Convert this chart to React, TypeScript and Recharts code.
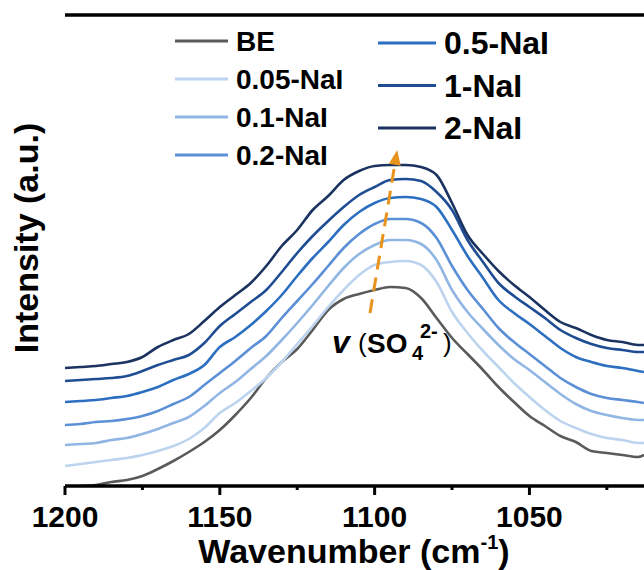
import React from 'react';
import { LineChart, Line, XAxis, YAxis, ReferenceLine } from 'recharts';

const wavenumbers = [1200, 1195, 1190, 1185, 1180, 1175, 1170, 1165, 1160, 1155, 1150, 1145, 1140, 1135, 1130, 1125, 1120, 1115, 1110, 1105, 1100, 1095, 1090, 1085, 1080, 1075, 1070, 1065, 1060, 1055, 1050, 1045, 1040, 1035, 1030, 1025, 1020, 1015, 1013];

const seriesBE = [null, 0, 1, 4, 6, 10, 17, 25, 34, 44, 56, 71, 88, 108, 124, 137, 156, 176, 187, 192, 196, 199, 198, 188, 168, 148, 132, 116, 99, 84, 70, 60, 50, 44, 35, 33, 31, 29, 31];
const series005 = [20, 22, 24, 26, 28, 31, 35, 40, 47, 58, 73, 83, 95, 108, 124, 142, 160, 179, 196, 211, 221, 224, 225, 221, 204, 174, 153, 135, 119, 103, 89, 76, 65, 58, 52, 48, 46, 43, 43];
const series01 = [41, 42, 43, 46, 48, 52, 57, 63, 69, 80, 93, 104, 117, 130, 146, 163, 181, 200, 218, 232, 241, 246, 246, 242, 226, 196, 174, 157, 141, 127, 116, 104, 92, 82, 75, 71, 68, 66, 66];
const series02 = [61, 62, 64, 65, 67, 70, 75, 82, 89, 101, 113, 125, 138, 150, 168, 185, 202, 220, 238, 252, 262, 267, 267, 263, 248, 220, 196, 177, 158, 144, 132, 120, 108, 99, 92, 88, 86, 84, 83];
const series05 = [84, 85, 86, 88, 90, 94, 99, 106, 112, 121, 139, 149, 161, 175, 191, 210, 228, 244, 261, 274, 283, 288, 289, 287, 279, 256, 230, 208, 186, 173, 162, 150, 138, 129, 124, 120, 118, 115, 114];
const series1 = [105, 106, 107, 108, 110, 115, 121, 126, 131, 143, 160, 172, 184, 196, 214, 233, 250, 265, 279, 291, 299, 306, 307, 305, 294, 276, 246, 224, 203, 190, 179, 168, 156, 148, 142, 138, 136, 134, 134];
const series2 = [118, 119, 120, 122, 124, 129, 139, 146, 152, 165, 179, 191, 203, 220, 240, 256, 276, 290, 306, 315, 320, 321, 321, 319, 311, 283, 251, 232, 215, 201, 189, 176, 164, 158, 151, 146, 144, 141, 141];

const seriesNames = ['BE', '0.05-NaI', '0.1-NaI', '0.2-NaI', '0.5-NaI', '1-NaI', '2-NaI'];
const seriesColors = ['#5a5a5a', '#bcd4ee', '#92b6e4', '#5b8fd6', '#2c6fc1', '#1f4d94', '#1b3360'];
const seriesValues = [seriesBE, series005, series01, series02, series05, series1, series2];

const xTicks = [1200, 1175, 1150, 1125, 1100, 1075, 1050, 1025];
const majorTicks = [1200, 1150, 1100, 1050];

const arrowTail = { x: 1101.5, y: 173 };
const arrowTip = { x: 1092.7, y: 336 };

const FONT = '"Liberation Sans", Arial, sans-serif';

const data = wavenumbers.map((w, i) => {
  const row: Record<string, number | null> = { w };
  seriesNames.forEach((n, k) => {
    row[n] = seriesValues[k][i];
  });
  return row;
});

function Tick(props: any) {
  const { x, y, payload } = props;
  const major = majorTicks.includes(payload.value);
  return (
    <g>
      <line x1={x} x2={x} y1={y} y2={y + (major ? 9 : 4)} stroke="#000" strokeWidth={3} />
      {major && (
        <text x={x} y={y + 41} textAnchor="middle" fontSize={30} fontWeight="bold" fontFamily={FONT} fill="#000">
          {payload.value}
        </text>
      )}
    </g>
  );
}

function ArrowShape(props: any) {
  const { x1, y1, x2, y2 } = props;
  if ([x1, y1, x2, y2].some((v) => typeof v !== 'number' || isNaN(v))) return <g />;
  const dx = x2 - x1;
  const dy = y2 - y1;
  const len = Math.sqrt(dx * dx + dy * dy);
  const ux = dx / len;
  const uy = dy / len;
  const headLen = 15;
  const headW = 6;
  const bx = x2 - ux * headLen;
  const by = y2 - uy * headLen;
  const px = -uy;
  const py = ux;
  return (
    <g>
      <line x1={x1} y1={y1} x2={bx} y2={by} stroke="#e8931c" strokeWidth={3} strokeDasharray="14 8" />
      <polygon
        points={`${x2},${y2} ${bx + px * headW},${by + py * headW} ${bx - px * headW},${by - py * headW}`}
        fill="#e8931c"
      />
    </g>
  );
}

const legendCol1 = [0, 1, 2, 3];
const legendCol2 = [4, 5, 6];

export default function App() {
  return (
    <div style={{ position: 'relative', width: 644, height: 570 }}>
      <style>{'html,body{margin:0;padding:0;overflow:hidden;}'}</style>
      <LineChart width={644} height={570} data={data} margin={{ top: 15, right: 0, bottom: 0, left: 65 }}>
        <XAxis
          dataKey="w"
          type="number"
          domain={[1013, 1200]}
          reversed
          allowDataOverflow
          ticks={xTicks}
          interval={0}
          tickSize={0}
          tickMargin={0}
          tickLine={false}
          tick={<Tick />}
          height={84}
          axisLine={{ stroke: '#000', strokeWidth: 3.5 }}
        />
        <YAxis
          type="number"
          domain={[0, 471]}
          allowDataOverflow
          width={0}
          tick={false}
          tickLine={false}
          axisLine={{ stroke: '#000', strokeWidth: 3.5 }}
        />
        <ReferenceLine y={471} stroke="#000" strokeWidth={3.5} ifOverflow="visible" />
        {seriesNames.map((n, k) => (
          <Line
            key={n}
            dataKey={n}
            type="monotone"
            stroke={seriesColors[k]}
            strokeWidth={2.6}
            dot={false}
            isAnimationActive={false}
          />
        ))}
        <ReferenceLine
          segment={[arrowTail, arrowTip]}
          ifOverflow="visible"
          shape={ArrowShape}
        />
      </LineChart>
      <svg
        width={644}
        height={570}
        style={{ position: 'absolute', left: 0, top: 0, pointerEvents: 'none' }}
        fontFamily={FONT}
      >
        {legendCol1.map((k, i) => {
          const y = 41 + i * 38;
          return (
            <g key={seriesNames[k]}>
              <line x1={175} x2={228} y1={y} y2={y} stroke={seriesColors[k]} strokeWidth={3} />
              <text x={236} y={y + 10} fontSize={28} fontWeight="bold" fill="#000">
                {seriesNames[k]}
              </text>
            </g>
          );
        })}
        {legendCol2.map((k, i) => {
          const y = 43 + i * 42.5;
          return (
            <g key={seriesNames[k]}>
              <line x1={378} x2={436} y1={y} y2={y} stroke={seriesColors[k]} strokeWidth={3} />
              <text x={444} y={y + 11} fontSize={32} fontWeight="bold" fill="#000">
                {seriesNames[k]}
              </text>
            </g>
          );
        })}
        <text
          x={26}
          y={238}
          transform="rotate(-90, 26, 238)"
          textAnchor="middle"
          dominantBaseline="central"
          fontSize={34}
          fontWeight="bold"
          fill="#000"
        >
          Intensity (a.u.)
        </text>
        <text x={354} y={563} textAnchor="middle" fontSize={34} fontWeight="bold" fill="#000">
          Wavenumber (cm
          <tspan fontSize={20} dy={-14}>-1</tspan>
          <tspan dy={14}>)</tspan>
        </text>
        <g fontWeight="bold" fill="#000">
          <text x={332} y={353} fontSize={32} fontStyle="italic">v</text>
          <text x={358} y={352} fontSize={26} fontWeight="normal">(</text>
          <text x={367} y={353} fontSize={28}>SO</text>
          <text x={412} y={360} fontSize={20}>4</text>
          <text x={420} y={338} fontSize={20}>2-</text>
          <text x={443} y={352} fontSize={26} fontWeight="normal">)</text>
        </g>
      </svg>
    </div>
  );
}
